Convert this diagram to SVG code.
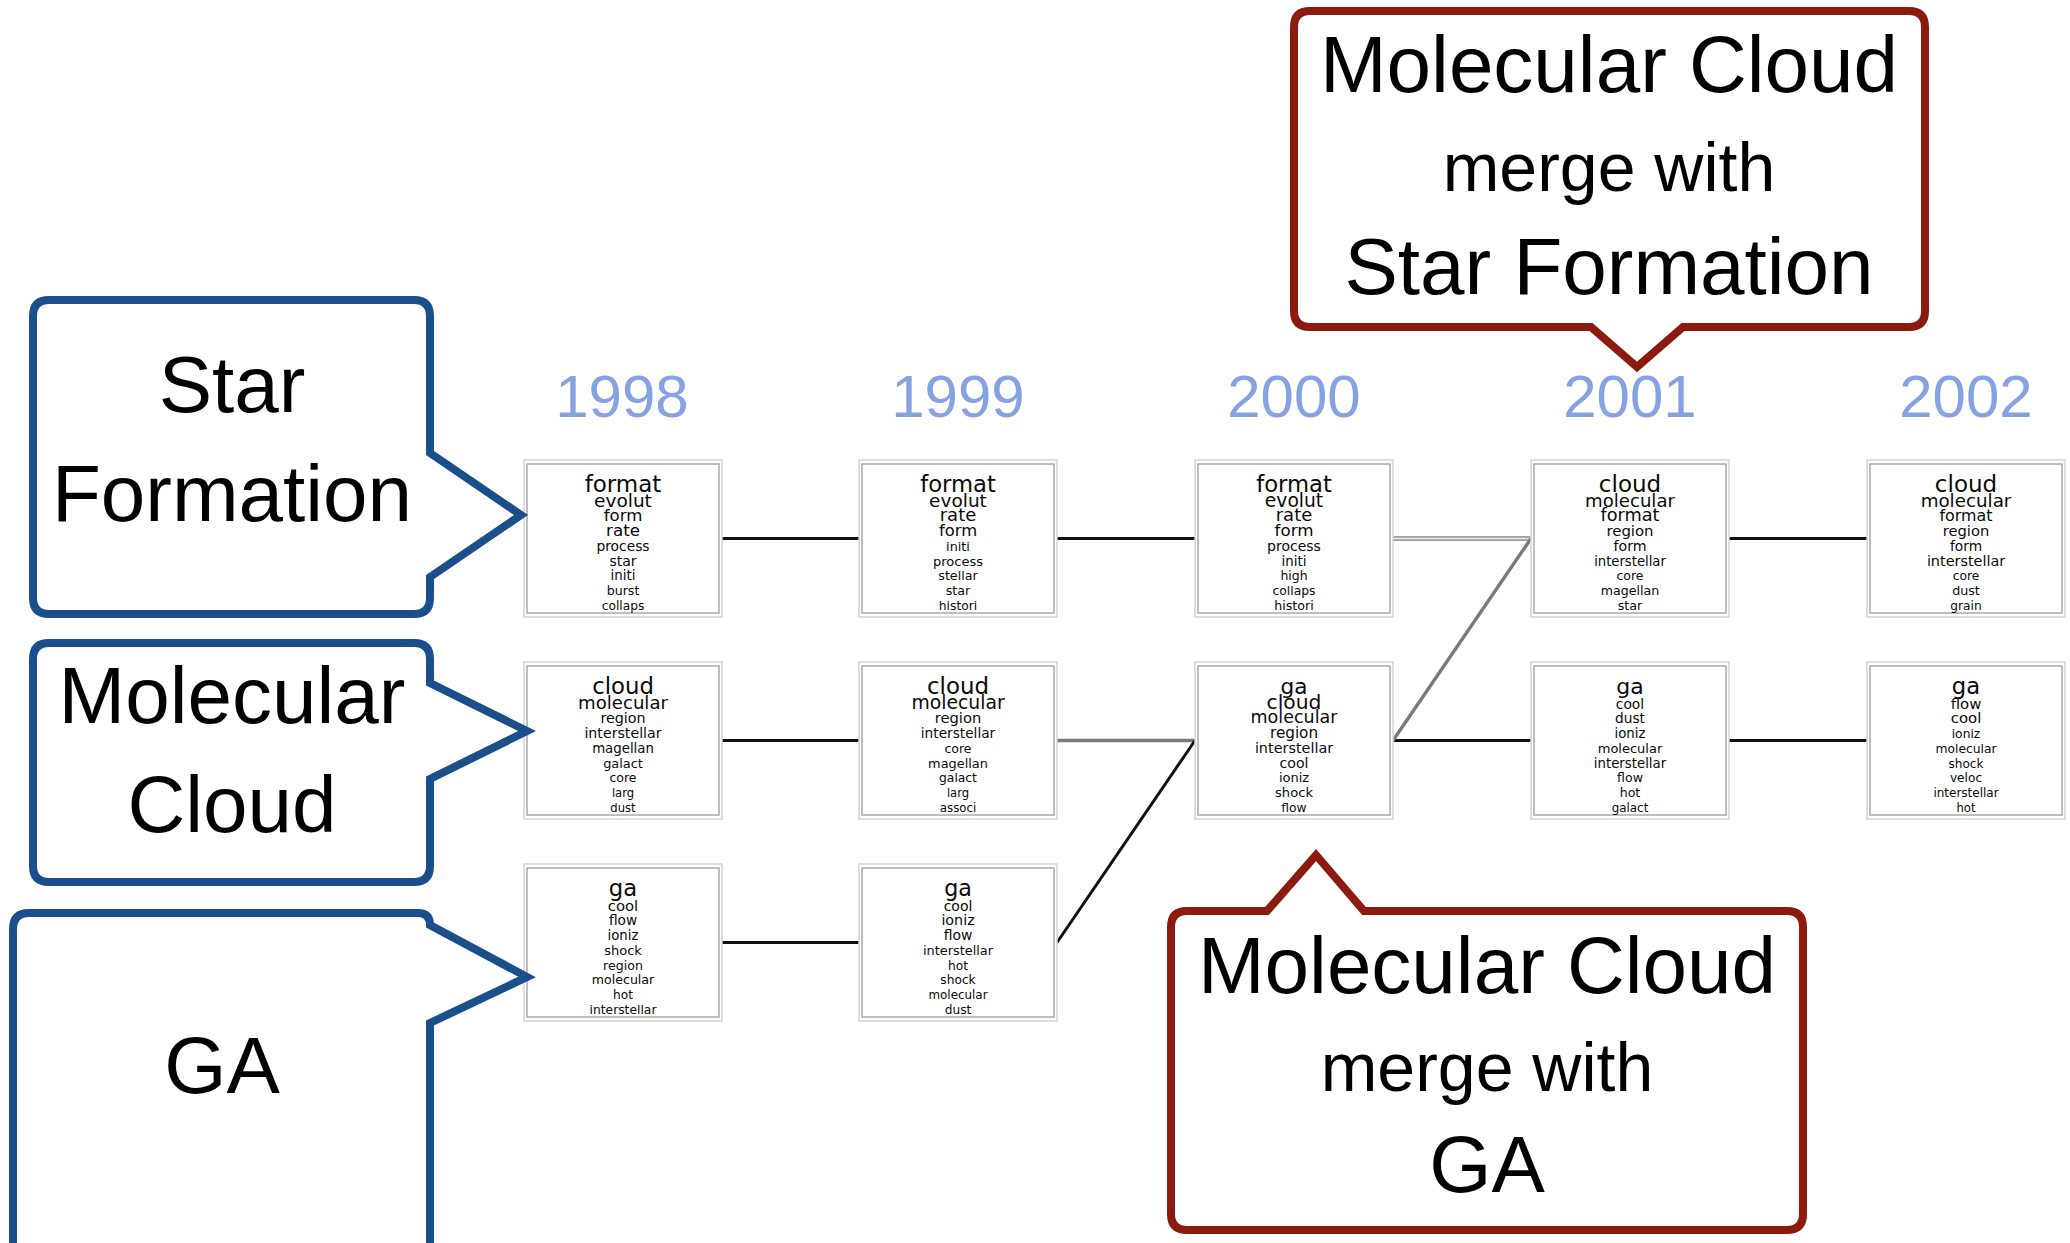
<svg xmlns="http://www.w3.org/2000/svg" width="2070" height="1243" viewBox="0 0 2070 1243">
  <style>
    .bg { fill: #ffffff; }
    .frame-out { fill: #ffffff; stroke: #d4d4d4; stroke-width: 1.5; }
    .frame-in { fill: #ffffff; stroke: #a9a9a9; stroke-width: 1.5; }
    .w { font-family: "DejaVu Sans", Verdana, sans-serif; fill: #0a0a0a; text-anchor: middle; }
    .year { font-family: "Liberation Sans", Arial, sans-serif; font-size: 60px; fill: #87a2e2; text-anchor: middle; }
    .link { stroke: #111111; stroke-width: 3; fill: none; }
    .link-grey { stroke: #7a7a7a; stroke-width: 3.4; fill: none; }
    .link-twin { stroke: #a0a0a0; stroke-width: 5; fill: none; }
    .link-twin-core { stroke: #e6e6e6; stroke-width: 1.6; fill: none; }
    .callout-blue { fill: #ffffff; stroke: #1b4f8b; stroke-width: 8; stroke-linejoin: miter; }
    .callout-red { fill: #ffffff; stroke: #8c1a0f; stroke-width: 8; stroke-linejoin: miter; }
    .ct { font-family: "Liberation Sans", Arial, sans-serif; font-size: 80px; fill: #000000; text-anchor: middle; }
    .ct-small { font-family: "Liberation Sans", Arial, sans-serif; font-size: 68px; fill: #000000; text-anchor: middle; }
  </style>

  <rect class="bg" x="0" y="0" width="2070" height="1243"/>

  <!-- year axis -->
  <g id="years">
    <text class="year" x="622" y="417">1998</text>
    <text class="year" x="958" y="417">1999</text>
    <text class="year" x="1294" y="417">2000</text>
    <text class="year" x="1630" y="417">2001</text>
    <text class="year" x="1966" y="417">2002</text>
  </g>

  <!-- topic links between years -->
  <g id="connectors">
    <line class="link" x1="722" y1="538.5" x2="859" y2="538.5"/>
    <line class="link" x1="1057" y1="538.5" x2="1195" y2="538.5"/>
    <line class="link-twin" x1="1393" y1="538.5" x2="1531" y2="538.5"/>
    <line class="link-twin-core" x1="1393" y1="538.5" x2="1531" y2="538.5"/>
    <line class="link" x1="1729" y1="538.5" x2="1867" y2="538.5"/>

    <line class="link" x1="722" y1="740.5" x2="859" y2="740.5"/>
    <line class="link-grey" x1="1057" y1="740.5" x2="1195" y2="740.5"/>
    <line class="link" x1="1393" y1="740.5" x2="1531" y2="740.5"/>
    <line class="link" x1="1729" y1="740.5" x2="1867" y2="740.5"/>

    <line class="link" x1="722" y1="942.5" x2="859" y2="942.5"/>

    <line class="link" x1="1195" y1="740.5" x2="1057" y2="942.5"/>
    <line class="link-grey" x1="1393" y1="740.5" x2="1531" y2="538.5"/>
  </g>

  <!-- topic word boxes -->
  <g id="t1998-star" transform="translate(623,464)">
    <rect class="frame-out" x="-99" y="-4" width="198" height="157"/>
    <rect class="frame-in" x="-96" y="0" width="192" height="149"/>
    <text class="w" y="28" font-size="23">format</text>
    <text class="w" y="42.7" font-size="18.5">evolut</text>
    <text class="w" y="57.4" font-size="16.6">form</text>
    <text class="w" y="72.1" font-size="16.7">rate</text>
    <text class="w" y="86.8" font-size="13.8">process</text>
    <text class="w" y="101.5" font-size="14">star</text>
    <text class="w" y="116.2" font-size="13.4">initi</text>
    <text class="w" y="130.9" font-size="12.6">burst</text>
    <text class="w" y="145.6" font-size="12.2">collaps</text>
  </g>

  <g id="t1999-star" transform="translate(958,464)">
    <rect class="frame-out" x="-99" y="-4" width="198" height="157"/>
    <rect class="frame-in" x="-96" y="0" width="192" height="149"/>
    <text class="w" y="28" font-size="22.7">format</text>
    <text class="w" y="42.7" font-size="18.5">evolut</text>
    <text class="w" y="57.4" font-size="18">rate</text>
    <text class="w" y="72.1" font-size="16.4">form</text>
    <text class="w" y="86.8" font-size="12.8">initi</text>
    <text class="w" y="101.5" font-size="13">process</text>
    <text class="w" y="116.2" font-size="12.7">stellar</text>
    <text class="w" y="130.9" font-size="12.7">star</text>
    <text class="w" y="145.6" font-size="12.3">histori</text>
  </g>

  <g id="t2000-star" transform="translate(1294,464)">
    <rect class="frame-out" x="-99" y="-4" width="198" height="157"/>
    <rect class="frame-in" x="-96" y="0" width="192" height="149"/>
    <text class="w" y="28" font-size="22.7">format</text>
    <text class="w" y="42.7" font-size="18.7">evolut</text>
    <text class="w" y="57.4" font-size="18">rate</text>
    <text class="w" y="72.1" font-size="16.7">form</text>
    <text class="w" y="86.8" font-size="14">process</text>
    <text class="w" y="101.5" font-size="13.4">initi</text>
    <text class="w" y="116.2" font-size="12.5">high</text>
    <text class="w" y="130.9" font-size="12.3">collaps</text>
    <text class="w" y="145.6" font-size="12.6">histori</text>
  </g>

  <g id="t2001-star" transform="translate(1630,464)">
    <rect class="frame-out" x="-99" y="-4" width="198" height="157"/>
    <rect class="frame-in" x="-96" y="0" width="192" height="149"/>
    <text class="w" y="28" font-size="23">cloud</text>
    <text class="w" y="42.7" font-size="18.1">molecular</text>
    <text class="w" y="57.4" font-size="17.7">format</text>
    <text class="w" y="72.1" font-size="14.9">region</text>
    <text class="w" y="86.8" font-size="14.2">form</text>
    <text class="w" y="101.5" font-size="13.2">interstellar</text>
    <text class="w" y="116.2" font-size="12.5">core</text>
    <text class="w" y="130.9" font-size="12.6">magellan</text>
    <text class="w" y="145.6" font-size="12.6">star</text>
  </g>

  <g id="t2002-star" transform="translate(1966,464)">
    <rect class="frame-out" x="-99" y="-4" width="198" height="157"/>
    <rect class="frame-in" x="-96" y="0" width="192" height="149"/>
    <text class="w" y="28" font-size="23">cloud</text>
    <text class="w" y="42.7" font-size="18.3">molecular</text>
    <text class="w" y="57.4" font-size="15.9">format</text>
    <text class="w" y="72.1" font-size="14.7">region</text>
    <text class="w" y="86.8" font-size="13.8">form</text>
    <text class="w" y="101.5" font-size="14.4">interstellar</text>
    <text class="w" y="116.2" font-size="12.3">core</text>
    <text class="w" y="130.9" font-size="12.7">dust</text>
    <text class="w" y="145.6" font-size="12.2">grain</text>
  </g>

  <g id="t1998-cloud" transform="translate(623,666)">
    <rect class="frame-out" x="-99" y="-4" width="198" height="157"/>
    <rect class="frame-in" x="-96" y="0" width="192" height="149"/>
    <text class="w" y="28" font-size="22.8">cloud</text>
    <text class="w" y="42.7" font-size="18.1">molecular</text>
    <text class="w" y="57.4" font-size="14.3">region</text>
    <text class="w" y="72.1" font-size="14.2">interstellar</text>
    <text class="w" y="86.8" font-size="13.3">magellan</text>
    <text class="w" y="101.5" font-size="12.9">galact</text>
    <text class="w" y="116.2" font-size="12.5">core</text>
    <text class="w" y="130.9" font-size="11.6">larg</text>
    <text class="w" y="145.6" font-size="11.6">dust</text>
  </g>

  <g id="t1999-cloud" transform="translate(958,666)">
    <rect class="frame-out" x="-99" y="-4" width="198" height="157"/>
    <rect class="frame-in" x="-96" y="0" width="192" height="149"/>
    <text class="w" y="28" font-size="22.9">cloud</text>
    <text class="w" y="42.7" font-size="18.8">molecular</text>
    <text class="w" y="57.4" font-size="14.7">region</text>
    <text class="w" y="72.1" font-size="13.7">interstellar</text>
    <text class="w" y="86.8" font-size="12.5">core</text>
    <text class="w" y="101.5" font-size="12.9">magellan</text>
    <text class="w" y="116.2" font-size="12.3">galact</text>
    <text class="w" y="130.9" font-size="11.6">larg</text>
    <text class="w" y="145.6" font-size="11.8">associ</text>
  </g>

  <g id="t2000-cloud-ga" transform="translate(1294,666)">
    <rect class="frame-out" x="-99" y="-4" width="198" height="157"/>
    <rect class="frame-in" x="-96" y="0" width="192" height="149"/>
    <text class="w" y="28" font-size="21.6">ga</text>
    <text class="w" y="42.7" font-size="20.3">cloud</text>
    <text class="w" y="57.4" font-size="17.5">molecular</text>
    <text class="w" y="72.1" font-size="15.2">region</text>
    <text class="w" y="86.8" font-size="14.4">interstellar</text>
    <text class="w" y="101.5" font-size="14.1">cool</text>
    <text class="w" y="116.2" font-size="13">ioniz</text>
    <text class="w" y="130.9" font-size="13.1">shock</text>
    <text class="w" y="145.6" font-size="12.3">flow</text>
  </g>

  <g id="t2001-ga" transform="translate(1630,666)">
    <rect class="frame-out" x="-99" y="-4" width="198" height="157"/>
    <rect class="frame-in" x="-96" y="0" width="192" height="149"/>
    <text class="w" y="28" font-size="22">ga</text>
    <text class="w" y="42.7" font-size="13.8">cool</text>
    <text class="w" y="57.4" font-size="13.7">dust</text>
    <text class="w" y="72.1" font-size="13.3">ioniz</text>
    <text class="w" y="86.8" font-size="13">molecular</text>
    <text class="w" y="101.5" font-size="13.3">interstellar</text>
    <text class="w" y="116.2" font-size="12.6">flow</text>
    <text class="w" y="130.9" font-size="12.6">hot</text>
    <text class="w" y="145.6" font-size="11.9">galact</text>
  </g>

  <g id="t2002-ga" transform="translate(1966,666)">
    <rect class="frame-out" x="-99" y="-4" width="198" height="157"/>
    <rect class="frame-in" x="-96" y="0" width="192" height="149"/>
    <text class="w" y="28" font-size="22.7">ga</text>
    <text class="w" y="42.7" font-size="14.9">flow</text>
    <text class="w" y="57.4" font-size="14.9">cool</text>
    <text class="w" y="72.1" font-size="12.3">ioniz</text>
    <text class="w" y="86.8" font-size="12.3">molecular</text>
    <text class="w" y="101.5" font-size="12.1">shock</text>
    <text class="w" y="116.2" font-size="12.2">veloc</text>
    <text class="w" y="130.9" font-size="12">interstellar</text>
    <text class="w" y="145.6" font-size="11.7">hot</text>
  </g>

  <g id="t1998-ga" transform="translate(623,868)">
    <rect class="frame-out" x="-99" y="-4" width="198" height="157"/>
    <rect class="frame-in" x="-96" y="0" width="192" height="149"/>
    <text class="w" y="28" font-size="22.7">ga</text>
    <text class="w" y="42.7" font-size="14.8">cool</text>
    <text class="w" y="57.4" font-size="13.7">flow</text>
    <text class="w" y="72.1" font-size="13.3">ioniz</text>
    <text class="w" y="86.8" font-size="13">shock</text>
    <text class="w" y="101.5" font-size="12.6">region</text>
    <text class="w" y="116.2" font-size="12.6">molecular</text>
    <text class="w" y="130.9" font-size="12.2">hot</text>
    <text class="w" y="145.6" font-size="12.3">interstellar</text>
  </g>

  <g id="t1999-ga" transform="translate(958,868)">
    <rect class="frame-out" x="-99" y="-4" width="198" height="157"/>
    <rect class="frame-in" x="-96" y="0" width="192" height="149"/>
    <text class="w" y="28" font-size="22.2">ga</text>
    <text class="w" y="42.7" font-size="14">cool</text>
    <text class="w" y="57.4" font-size="14.3">ioniz</text>
    <text class="w" y="72.1" font-size="13.9">flow</text>
    <text class="w" y="86.8" font-size="12.9">interstellar</text>
    <text class="w" y="101.5" font-size="12.2">hot</text>
    <text class="w" y="116.2" font-size="12.2">shock</text>
    <text class="w" y="130.9" font-size="11.9">molecular</text>
    <text class="w" y="145.6" font-size="12.2">dust</text>
  </g>

  <!-- topic name callouts -->
  <g id="label-star-formation">
    <path class="callout-blue" d="M 49,300 H 414 Q 430,300 430,316 V 453 L 521,515 L 430,577 V 598 Q 430,614 414,614 H 49 Q 33,614 33,598 V 316 Q 33,300 49,300 Z"/>
    <text class="ct" x="232" y="412">Star</text>
    <text class="ct" x="232" y="521">Formation</text>
  </g>

  <g id="label-molecular-cloud">
    <path class="callout-blue" d="M 49,643 H 414 Q 430,643 430,659 V 683 L 527,731 L 430,779 V 866 Q 430,882 414,882 H 49 Q 33,882 33,866 V 659 Q 33,643 49,643 Z"/>
    <text class="ct" x="232" y="723">Molecular</text>
    <text class="ct" x="232" y="832">Cloud</text>
  </g>

  <g id="label-ga">
    <path class="callout-blue" d="M 29,913 H 418 Q 430,913 430,925 L 527,977 L 430,1023 V 1270 H 13 V 929 Q 13,913 29,913 Z"/>
    <text class="ct" x="222" y="1093">GA</text>
  </g>

  <!-- merge event callouts -->
  <g id="merge-star-formation">
    <path class="callout-red" d="M 1310,11 H 1909 Q 1925,11 1925,27 V 311 Q 1925,327 1909,327 H 1683 L 1637,367 L 1591,327 H 1310 Q 1294,327 1294,311 V 27 Q 1294,11 1310,11 Z"/>
    <text class="ct" x="1609" y="92">Molecular Cloud</text>
    <text class="ct-small" x="1609" y="191">merge with</text>
    <text class="ct" x="1609" y="294">Star Formation</text>
  </g>

  <g id="merge-ga">
    <path class="callout-red" d="M 1187,911 H 1267 L 1316,855 L 1364,911 H 1787 Q 1803,911 1803,927 V 1214 Q 1803,1230 1787,1230 H 1187 Q 1171,1230 1171,1214 V 927 Q 1171,911 1187,911 Z"/>
    <text class="ct" x="1487" y="993">Molecular Cloud</text>
    <text class="ct-small" x="1487" y="1091">merge with</text>
    <text class="ct" x="1487" y="1192">GA</text>
  </g>
</svg>
